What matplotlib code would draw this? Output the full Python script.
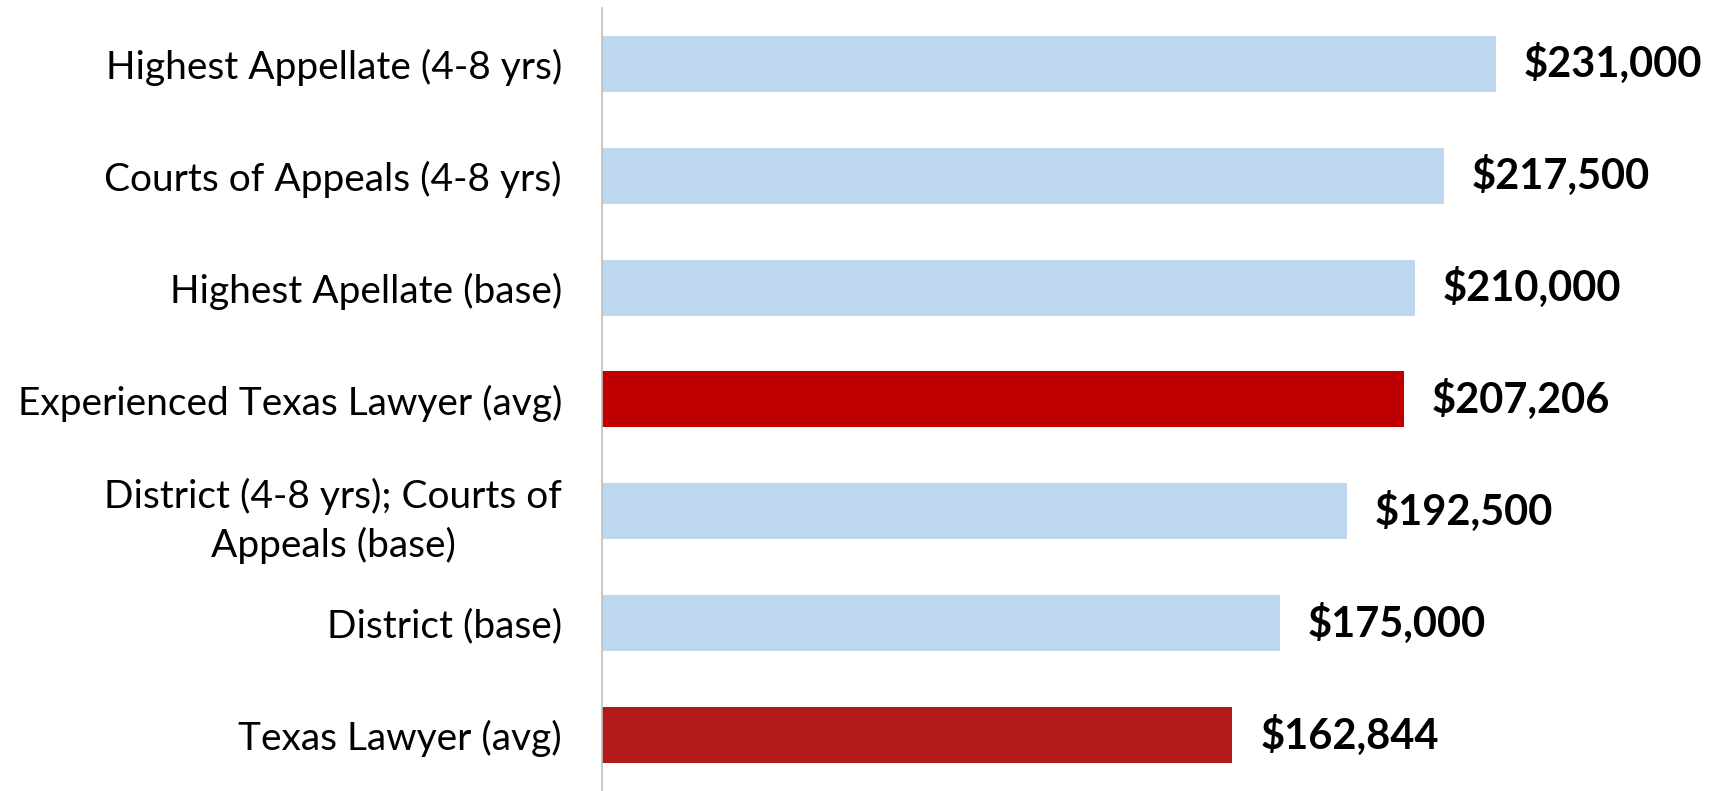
import matplotlib
matplotlib.use("Agg")
import matplotlib.pyplot as plt

plt.rcParams['font.family'] = ['Lato', 'DejaVu Sans']

categories = [
    "Highest Appellate (4-8 yrs)",
    "Courts of Appeals (4-8 yrs)",
    "Highest Apellate (base)",
    "Experienced Texas Lawyer (avg)",
    "District (4-8 yrs); Courts of\nAppeals (base)",
    "District (base)",
    "Texas Lawyer (avg)",
]
salaries = [231000, 217500, 210000, 207206, 192500, 175000, 162844]
bar_colors = ["#BDD7EE", "#BDD7EE", "#BDD7EE", "#C00000", "#BDD7EE", "#BDD7EE", "#B01A1A"]

fig = plt.figure(figsize=(17.11, 7.91), dpi=100)
ax = fig.add_axes([0.352, 0.0, 0.648, 0.99])

y = list(range(len(categories)))
ax.barh(y, salaries, height=0.5, color=bar_colors)
ax.set_ylim(len(categories) - 0.5, -0.5)
ax.set_xlim(0, 286500)

ax.set_yticks(y)
ax.set_yticklabels(categories, fontsize=28, multialignment='center', linespacing=1.4)
ax.tick_params(axis='y', length=0, pad=29)
ax.set_xticks([])

for s in ['top', 'right', 'bottom']:
    ax.spines[s].set_visible(False)
ax.spines['left'].set_color('#BFBFBF')
ax.spines['left'].set_linewidth(1.2)

for yi, v in zip(y, salaries):
    ax.annotate("${:,}".format(v), (v, yi), xytext=(20, 0), textcoords='offset points',
                va='center', ha='left', fontsize=30, fontweight='bold')

fig.savefig("out.png", dpi=100)
